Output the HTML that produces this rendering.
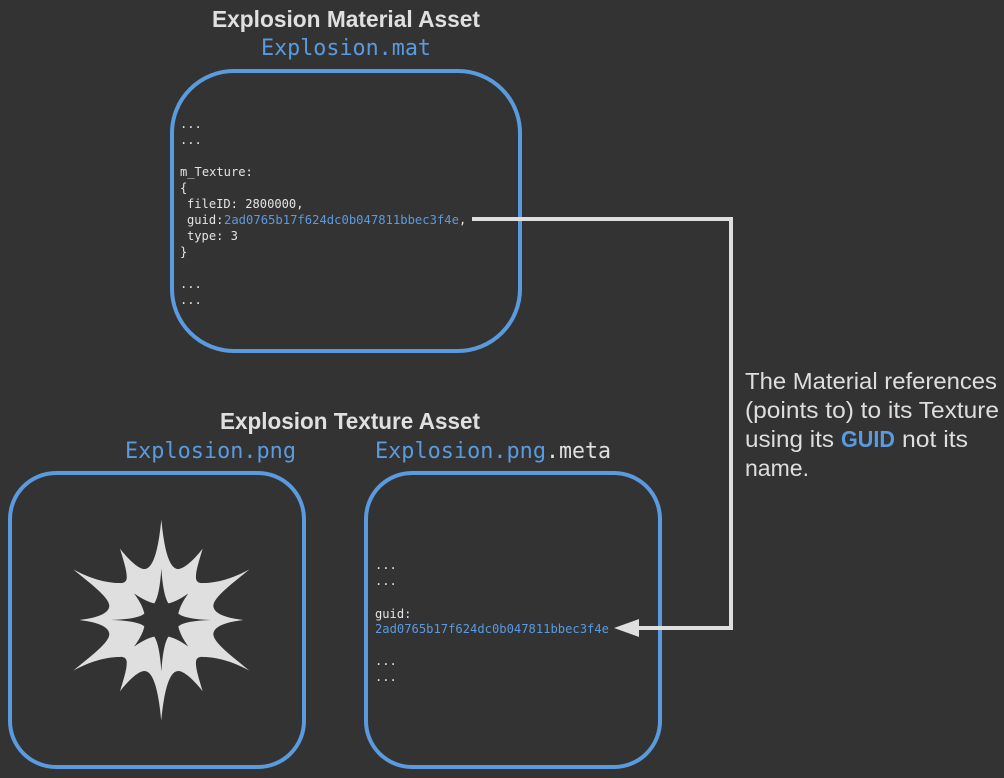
<!DOCTYPE html>
<html>
<head>
<meta charset="utf-8">
<style>
html,body{margin:0;padding:0;background:#333333;width:1004px;height:778px;overflow:hidden}
svg{display:block}
.h{font-family:"Liberation Sans",sans-serif;font-weight:bold;font-size:23.5px;fill:#e0e0e0}
.m{font-family:"DejaVu Sans Mono","Liberation Mono",monospace;font-size:21.8px;fill:#5a9ade}
.w{fill:#e0e0e0}
.c{font-family:"DejaVu Sans Mono","Liberation Mono",monospace;font-size:12.1px;fill:#e4e4e4}
.b{fill:#5a9ade}
.t{font-family:"Liberation Sans",sans-serif;font-size:23px;fill:#dedede}
</style>
</head>
<body>
<svg width="1004" height="778" viewBox="0 0 1004 778" xmlns="http://www.w3.org/2000/svg">
<rect width="1004" height="778" fill="#333333"/>

<text class="h" x="212" y="27" textLength="268" lengthAdjust="spacingAndGlyphs">Explosion Material Asset</text>
<text class="m" x="261" y="55" textLength="170" lengthAdjust="spacingAndGlyphs">Explosion.mat</text>
<rect x="172" y="71" width="348" height="280" rx="62" ry="62" fill="none" stroke="#5a9ade" stroke-width="4"/>

<text class="c" x="180" y="128">...</text>
<text class="c" x="180" y="144">...</text>
<text class="c" x="180" y="176">m_Texture:</text>
<text class="c" x="180" y="192">{</text>
<text class="c" x="187" y="208">fileID: 2800000,</text>
<text class="c" x="187" y="224">guid:</text>
<text class="c b" x="224" y="224" textLength="235" lengthAdjust="spacingAndGlyphs">2ad0765b17f624dc0b047811bbec3f4e</text>
<text class="c" x="459" y="224">,</text>
<text class="c" x="187" y="240">type: 3</text>
<text class="c" x="180" y="256">}</text>
<text class="c" x="180" y="288">...</text>
<text class="c" x="180" y="304">...</text>

<text class="h" x="220" y="429" textLength="260" lengthAdjust="spacingAndGlyphs">Explosion Texture Asset</text>
<text class="m" x="125" y="458" textLength="171" lengthAdjust="spacingAndGlyphs">Explosion.png</text>
<text class="m" x="375" y="458" textLength="171" lengthAdjust="spacingAndGlyphs">Explosion.png</text>
<text class="m w" x="546" y="458" textLength="65" lengthAdjust="spacingAndGlyphs">.meta</text>

<rect x="10" y="473" width="294" height="294" rx="46" ry="46" fill="none" stroke="#5a9ade" stroke-width="4"/>
<rect x="366" y="473" width="294" height="294" rx="46" ry="46" fill="none" stroke="#5a9ade" stroke-width="4"/>

<g transform="translate(60,500) scale(0.33333)">
<path fill-rule="evenodd" fill="#dfdfdf" d="M304 58 C310 120 322 207 355 207 C375 207 410 170 428 146 C418 180 406 215 408 236 C410 248 420 250 430 249 C470 249 520 235 568 208 C525 245 460 290 460 318 C462 345 510 355 550 360 C510 365 462 375 460 402 C460 430 525 475 568 512 C520 485 470 471 430 471 C420 470 410 472 408 484 C406 505 418 540 428 574 C410 550 375 513 355 513 C322 513 310 600 304 662 C298 600 286 513 253 513 C233 513 198 550 180 574 C190 540 202 505 200 484 C198 472 188 470 178 471 C138 471 88 485 40 512 C83 475 148 430 148 402 C146 375 98 365 58 360 C98 355 146 345 148 318 C148 290 83 245 40 208 C88 235 138 249 178 249 C188 250 198 248 200 236 C202 215 190 180 180 146 C198 170 233 207 253 207 C286 207 298 120 304 58 Z
M304 205 Q309 285 325 310 Q350 305 385 280 Q360 315 355 341 Q375 358 455 360 Q375 362 355 379 Q360 405 385 440 Q350 415 325 410 Q309 435 304 515 Q299 435 283 410 Q258 415 222 440 Q248 405 253 379 Q233 362 152 360 Q233 358 253 341 Q248 315 222 280 Q258 305 283 310 Q299 285 304 205 Z"/>
</g>

<text class="c" x="375" y="569">...</text>
<text class="c" x="375" y="585">...</text>
<text class="c" x="375" y="618">guid:</text>
<text class="c b" x="375" y="633" textLength="234" lengthAdjust="spacingAndGlyphs">2ad0765b17f624dc0b047811bbec3f4e</text>
<text class="c" x="375" y="665">...</text>
<text class="c" x="375" y="681">...</text>

<path d="M472 219 H731 V628 H636" fill="none" stroke="#dfdfdf" stroke-width="4"/>
<polygon points="614,628 639,619 639,637" fill="#dfdfdf"/>

<text class="t" x="745" y="389" textLength="252" lengthAdjust="spacingAndGlyphs">The Material references</text>
<text class="t" x="745" y="418" textLength="254" lengthAdjust="spacingAndGlyphs">(points to) to its Texture</text>
<text class="t" x="745" y="447" textLength="89" lengthAdjust="spacingAndGlyphs">using its</text>
<text class="t" x="841" y="447" textLength="54" lengthAdjust="spacingAndGlyphs" style="fill:#5a9ade;font-weight:bold">GUID</text>
<text class="t" x="902" y="447" textLength="66" lengthAdjust="spacingAndGlyphs">not its</text>
<text class="t" x="745" y="476" textLength="64" lengthAdjust="spacingAndGlyphs">name.</text>
</svg>
</body>
</html>
